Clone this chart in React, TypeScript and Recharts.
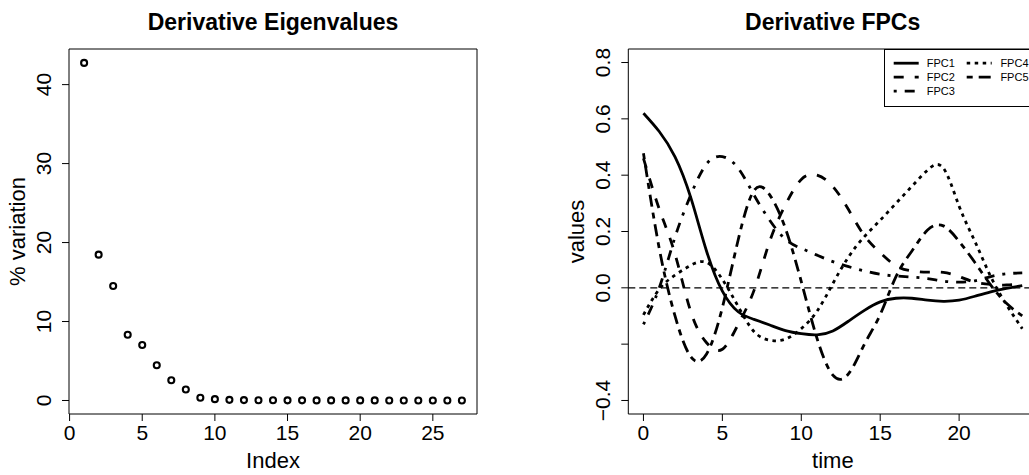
import React from "react";
import {
  ScatterChart,
  Scatter,
  LineChart,
  Line,
  XAxis,
  YAxis,
  ReferenceLine,
  ReferenceArea,
  Legend,
} from "recharts";

const FONT = '"Liberation Sans", Arial, Helvetica, sans-serif';

// left panel: % variation per eigenvalue index
const eigIndex = [1, 2, 3, 4, 5, 6, 7, 8, 9, 10, 11, 12, 13, 14, 15, 16, 17, 18, 19, 20, 21, 22, 23, 24, 25, 26, 27];
const eigPct = [
  42.75, 18.47, 14.5, 8.33, 7.03, 4.46, 2.56, 1.39, 0.34, 0.17, 0.08, 0.05, 0.04, 0.03,
  0.02, 0.02, 0.01, 0.01, 0.01, 0.01, 0.01, 0, 0, 0, 0, 0, 0,
];
const eigXTicks = [0, 5, 10, 15, 20, 25];
const eigYTicks = [0, 10, 20, 30, 40];
const EIG_X = [-0.04, 28.04];
const EIG_Y = [-1.71, 44.51];

// right panel: derivative FPCs on a time grid
const times = [0, 1, 2, 3, 4, 5, 6, 7, 8, 9, 10, 11, 12, 13, 14, 15, 16, 17, 18, 19, 20, 21, 22, 23, 24];
const fpc1 = [
  0.62, 0.555, 0.465, 0.32, 0.13, -0.012, -0.085, -0.112, -0.132, -0.152, -0.163, -0.167, -0.153,
  -0.118, -0.08, -0.05, -0.037, -0.037, -0.044, -0.048, -0.044, -0.03, -0.014, -0.002, 0.008,
];
const fpc2 = [
  0.46, 0.28, 0.12, -0.085, -0.195, -0.218, -0.13, -0.01, 0.165, 0.295, 0.385, 0.4, 0.36,
  0.277, 0.185, 0.125, 0.078, 0.06, 0.056, 0.055, 0.04, 0.02, 0.012, 0.01, 0.015,
];
const fpc3 = [
  -0.13, 0.0, 0.18, 0.33, 0.44, 0.466, 0.425, 0.33, 0.24, 0.172, 0.14, 0.116, 0.093, 0.075,
  0.06, 0.048, 0.042, 0.038, 0.033, 0.024, 0.02, 0.025, 0.04, 0.05, 0.053,
];
const fpc4 = [
  -0.096, -0.005, 0.045, 0.08, 0.09, 0.03, -0.066, -0.155, -0.186, -0.182, -0.145, -0.083, 0.015,
  0.11, 0.182, 0.24, 0.3, 0.36, 0.418, 0.425, 0.29, 0.165, 0.04, -0.06, -0.145,
];
const fpc5 = [
  0.478, 0.14, -0.1, -0.245, -0.235, -0.07, 0.17, 0.345, 0.33, 0.21, 0.022, -0.18, -0.31,
  -0.305, -0.2, -0.095, 0.04, 0.13, 0.205, 0.22, 0.165, 0.09, 0.01, -0.055, -0.1,
];
const fpcXTicks = [0, 5, 10, 15, 20];
const fpcYTicks = [-0.4, -0.2, 0, 0.2, 0.4, 0.6, 0.8];
const FPC_X = [-0.96, 24.96];
const FPC_Y = [-0.448, 0.848];

const series = [
  { key: "fpc1", name: "FPC1", dash: undefined as string | undefined },
  { key: "fpc2", name: "FPC2", dash: "10 11" },
  { key: "fpc3", name: "FPC3", dash: "3 8 10 8" },
  { key: "fpc4", name: "FPC4", dash: "3.5 4.5" },
  { key: "fpc5", name: "FPC5", dash: "6 6 12 6" },
];

const eigData = eigIndex.map((i, k) => ({ index: i, pct: eigPct[k] }));
const fpcData = times.map((t, i) => ({
  t,
  fpc1: fpc1[i],
  fpc2: fpc2[i],
  fpc3: fpc3[i],
  fpc4: fpc4[i],
  fpc5: fpc5[i],
}));

const TICK = { fill: "#000", fontSize: 21, fontFamily: FONT };

function fmtFpc(v: number): string {
  if (Math.abs(v + 0.2) < 1e-9) return ""; // R drops this label (overlap)
  const s = Math.abs(v).toFixed(1);
  return v < -1e-9 ? "\u2212" + s : s;
}

function VTick({ x, y, payload, fmt }: any) {
  const label = fmt ? fmt(payload.value) : String(payload.value);
  return (
    <text
      x={x}
      y={y}
      transform={`rotate(-90, ${x}, ${y})`}
      textAnchor="middle"
      fontSize={21}
      fontFamily={FONT}
      fill="#000"
    >
      {label}
    </text>
  );
}

function XTitle({ viewBox, text }: any) {
  const vb = viewBox || { x: 0, y: 0, width: 0 };
  return (
    <text x={vb.x + vb.width / 2} y={vb.y + 54} textAnchor="middle" fontSize={22} fontFamily={FONT} fill="#000">
      {text}
    </text>
  );
}

function YTitle({ viewBox, text }: any) {
  const vb = viewBox || { x: 0, y: 0, width: 0, height: 0 };
  const x = vb.x + vb.width - 44;
  const y = vb.y + vb.height / 2;
  return (
    <text
      x={x}
      y={y}
      transform={`rotate(-90, ${x}, ${y})`}
      textAnchor="middle"
      fontSize={22}
      fontFamily={FONT}
      fill="#000"
    >
      {text}
    </text>
  );
}

function FpcLegend() {
  const rows = [14.2, 28.2, 42.2];
  const cols = [
    { x1: 9.7, x2: 34.7, tx: 42.7 },
    { x1: 82.7, x2: 107.7, tx: 116.4 },
  ];
  return (
    <svg width={200} height={58} style={{ display: "block" }}>
      <rect x={0.5} y={0.5} width={199} height={57} fill="#fff" stroke="#000" strokeWidth={1} />
      {series.map((s, i) => {
        const c = cols[i < 3 ? 0 : 1];
        const y = rows[i < 3 ? i : i - 3];
        return (
          <g key={s.key}>
            <line x1={c.x1} x2={c.x2} y1={y} y2={y} stroke="#000" strokeWidth={2.8} strokeDasharray={s.dash} />
            <text x={c.tx} y={y} dominantBaseline="central" fontSize={11} fontFamily={FONT} fill="#000">
              {s.name}
            </text>
          </g>
        );
      })}
    </svg>
  );
}

const titleStyle = (cx: number): React.CSSProperties => ({
  position: "absolute",
  left: cx - 200,
  top: 10.5,
  width: 400,
  textAlign: "center",
  fontSize: 23,
  lineHeight: "23px",
  fontWeight: "bold",
  fontFamily: FONT,
  color: "#000",
});

export default function App() {
  return (
    <div
      style={{
        position: "absolute",
        left: 0,
        top: 0,
        width: 1029,
        height: 475,
        overflow: "hidden",
        background: "#fff",
        fontFamily: FONT,
      }}
    >
      <div style={{ position: "absolute", left: 0, top: 0 }}>
        <ScatterChart width={514} height={475} margin={{ top: 49, right: 37, bottom: 1, left: 9 }}>
          <XAxis
            type="number"
            dataKey="index"
            domain={EIG_X}
            ticks={eigXTicks}
            interval={0}
            allowDataOverflow
            axisLine={false}
            tickLine={{ stroke: "#000" }}
            tickSize={7}
            tickMargin={4}
            tick={TICK}
            height={60}
            label={<XTitle text="Index" />}
          />
          <YAxis
            type="number"
            dataKey="pct"
            domain={EIG_Y}
            ticks={eigYTicks}
            interval={0}
            allowDataOverflow
            axisLine={false}
            tickLine={{ stroke: "#000" }}
            tickSize={7}
            tickMargin={11}
            tick={(p: any) => <VTick {...p} />}
            width={60}
            label={<YTitle text="% variation" />}
          />
          <ReferenceArea
            x1={EIG_X[0]}
            x2={EIG_X[1]}
            y1={EIG_Y[0]}
            y2={EIG_Y[1]}
            fill="none"
            stroke="#000"
            strokeWidth={1}
            ifOverflow="visible"
          />
          <Scatter
            data={eigData}
            dataKey="pct"
            isAnimationActive={false}
            shape={(p: any) => (
              <circle cx={p.cx} cy={p.cy} r={3} fill="none" stroke="#000" strokeWidth={2.1} />
            )}
          />
        </ScatterChart>
      </div>

      <div style={{ position: "absolute", left: 514, top: 0 }}>
        <LineChart width={530} height={475} data={fpcData} margin={{ top: 49, right: 6.6, bottom: 1, left: 54.3 }}>
          <XAxis
            type="number"
            dataKey="t"
            domain={FPC_X}
            ticks={fpcXTicks}
            interval={0}
            allowDataOverflow
            axisLine={false}
            tickLine={{ stroke: "#000" }}
            tickSize={7}
            tickMargin={4}
            tick={TICK}
            height={60}
            label={<XTitle text="time" />}
          />
          <YAxis
            type="number"
            domain={FPC_Y}
            ticks={fpcYTicks}
            interval={0}
            allowDataOverflow
            axisLine={false}
            tickLine={{ stroke: "#000" }}
            tickSize={7}
            tickMargin={11}
            tick={(p: any) => <VTick {...p} fmt={fmtFpc} />}
            width={60}
            label={<YTitle text="values" />}
          />
          <ReferenceArea
            x1={FPC_X[0]}
            x2={FPC_X[1]}
            y1={FPC_Y[0]}
            y2={FPC_Y[1]}
            fill="none"
            stroke="#000"
            strokeWidth={1}
            ifOverflow="visible"
          />
          <ReferenceLine y={0} stroke="#000" strokeWidth={1.2} strokeDasharray="7 4" />
          {series.map((s) => (
            <Line
              key={s.key}
              type="natural"
              dataKey={s.key}
              name={s.name}
              stroke="#000"
              strokeWidth={2.8}
              strokeDasharray={s.dash}
              dot={false}
              activeDot={false}
              isAnimationActive={false}
            />
          ))}
          <Legend
            layout="horizontal"
            verticalAlign="middle"
            align="center"
            wrapperStyle={{ position: "absolute", left: 370.3, top: 49, width: 200, height: 58 }}
            content={() => <FpcLegend />}
          />
        </LineChart>
      </div>

      <div style={titleStyle(273)}>Derivative Eigenvalues</div>
      <div style={titleStyle(832.7)}>Derivative FPCs</div>
    </div>
  );
}
